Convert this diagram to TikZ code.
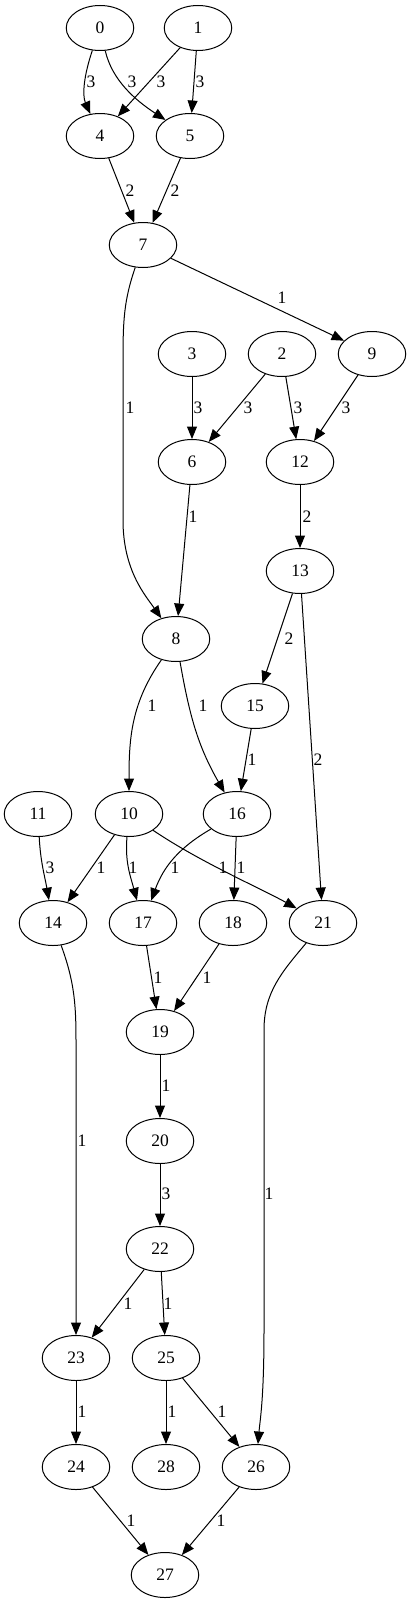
\documentclass[tikz,border=0pt]{standalone}
\usepackage{fontspec}
\setmainfont{Liberation Serif}
\usetikzlibrary{arrows.meta, shapes.geometric}
\tikzset{vtx/.style={draw, ellipse, line width=0.8pt, minimum width=54pt, minimum height=36pt, inner sep=0pt, font=\fontsize{14}{16}\selectfont}}
\tikzset{arr/.style={draw, line width=0.8pt, -{Triangle[length=10pt, width=8pt]}}}
\tikzset{wlbl/.style={inner sep=0pt, font=\fontsize{14}{16}\selectfont}}

\begin{document}
\begin{tikzpicture}[x=0.8pt, y=-0.8pt]
                \useasboundingbox (0,0) rectangle (411,1604);
                %
                \node[vtx] (n0) at (100,28) {0};
                \node[vtx] (n1) at (198,28) {1};
                \node[vtx] (n4) at (100,136) {4};
                \node[vtx] (n5) at (190,136) {5};
                \node[vtx] (n7) at (143,245) {7};
                \node[vtx] (n3) at (192,354) {3};
                \node[vtx] (n2) at (282,354) {2};
                \node[vtx] (n9) at (372,354) {9};
                \node[vtx] (n6) at (192,462) {6};
                \node[vtx] (n12) at (300,462) {12};
                \node[vtx] (n13) at (300,571) {13};
                \node[vtx] (n8) at (176,639) {8};
                \node[vtx] (n15) at (255,706) {15};
                \node[vtx] (n11) at (38,814) {11};
                \node[vtx] (n10) at (129,814) {10};
                \node[vtx] (n16) at (237,814) {16};
                \node[vtx] (n14) at (53,923) {14};
                \node[vtx] (n17) at (143,923) {17};
                \node[vtx] (n18) at (233,923) {18};
                \node[vtx] (n21) at (323,923) {21};
                \node[vtx] (n19) at (160,1032) {19};
                \node[vtx] (n20) at (160,1141) {20};
                \node[vtx] (n22) at (160,1249) {22};
                \node[vtx] (n23) at (76,1358) {23};
                \node[vtx] (n25) at (166,1358) {25};
                \node[vtx] (n24) at (76,1467) {24};
                \node[vtx] (n28) at (166,1467) {28};
                \node[vtx] (n26) at (256,1467) {26};
                \node[vtx] (n27) at (165,1575) {27};
                %
                \draw[arr] (n0) .. controls (84,75) and (82,95) .. (n4)
                    node[wlbl] at (91,82) {3};
                \draw[arr] (n0) .. controls (112,80) and (135,100) .. (n5)
                    node[wlbl] at (132,82) {3};
                \draw[arr] (n1) -- (n4) node[wlbl] at (161,82) {3};
                \draw[arr] (n1) -- (n5) node[wlbl] at (200,82) {3};
                \draw[arr] (n4) -- (n7) node[wlbl] at (130,191) {2};
                \draw[arr] (n5) -- (n7) node[wlbl] at (175,191) {2};
                %
                \draw[arr] (n7) -- (n9) node[wlbl] at (282,298) {1};
                \draw[arr] (n7) .. controls (124,300) and (123,320) .. (123,360)
                    -- (123,520) .. controls (123,570) and (145,595) .. (n8)
                    node[wlbl] at (130,408) {1};
                \draw[arr] (n3) -- (n6) node[wlbl] at (198,408) {3};
                \draw[arr] (n2) -- (n6) node[wlbl] at (248,408) {3};
                \draw[arr] (n2) -- (n12) node[wlbl] at (298,408) {3};
                \draw[arr] (n9) -- (n12) node[wlbl] at (346,408) {3};
                \draw[arr] (n6) -- (n8) node[wlbl] at (193,517) {1};
                \draw[arr] (n12) -- (n13) node[wlbl] at (307,517) {2};
                %
                \draw[arr] (n13) -- (n15) node[wlbl] at (289,639) {2};
                \draw[arr] (n13) -- (n21) node[wlbl] at (318,760) {2};
                \draw[arr] (n8) to[out=-125,in=90] (n10)
                    node[wlbl] at (152,706) {1};
                \draw[arr] (n8) to[out=-80,in=120] (n16)
                    node[wlbl] at (203,706) {1};
                \draw[arr] (n15) -- (n16) node[wlbl] at (252,760) {1};
                %
                \draw[arr] (n11) to[out=-87,in=100] (n14)
                    node[wlbl] at (50,868) {3};
                \draw[arr] (n10) -- (n14) node[wlbl] at (101,868) {1};
                \draw[arr] (n10) to[out=-95,in=105] (n17)
                    node[wlbl] at (133,868) {1};
                \draw[arr] (n16) to[out=-150,in=70] (n17)
                    node[wlbl] at (175,868) {1};
                \draw[arr] (n10) .. controls (200,862) and (260,888) .. (n21)
                    node[wlbl] at (223,868) {1};
                \draw[arr] (n16) -- (n18) node[wlbl] at (241,868) {1};
                %
                \draw[arr] (n17) -- (n19) node[wlbl] at (158,978) {1};
                \draw[arr] (n18) -- (n19) node[wlbl] at (207,978) {1};
                \draw[arr] (n19) -- (n20) node[wlbl] at (166,1086) {1};
                \draw[arr] (n20) -- (n22) node[wlbl] at (166,1194) {3};
                \draw[arr] (n14) to[out=-70,in=90] (76,1040) -- (n23)
                    node[wlbl] at (82,1141) {1};
                \draw[arr] (n21) to[out=-130,in=90] (264,1030) -- (264,1330)
                    .. controls (264,1400) and (260,1420) .. (n26)
                    node[wlbl] at (269,1194) {1};
                %
                \draw[arr] (n22) -- (n23) node[wlbl] at (128,1304) {1};
                \draw[arr] (n22) -- (n25) node[wlbl] at (168,1304) {1};
                \draw[arr] (n23) -- (n24) node[wlbl] at (82,1412) {1};
                \draw[arr] (n25) -- (n28) node[wlbl] at (172,1412) {1};
                \draw[arr] (n25) -- (n26) node[wlbl] at (222,1412) {1};
                \draw[arr] (n24) -- (n27) node[wlbl] at (131,1521) {1};
                \draw[arr] (n26) -- (n27) node[wlbl] at (221,1521) {1};
                %
            \end{tikzpicture}
\end{document}
